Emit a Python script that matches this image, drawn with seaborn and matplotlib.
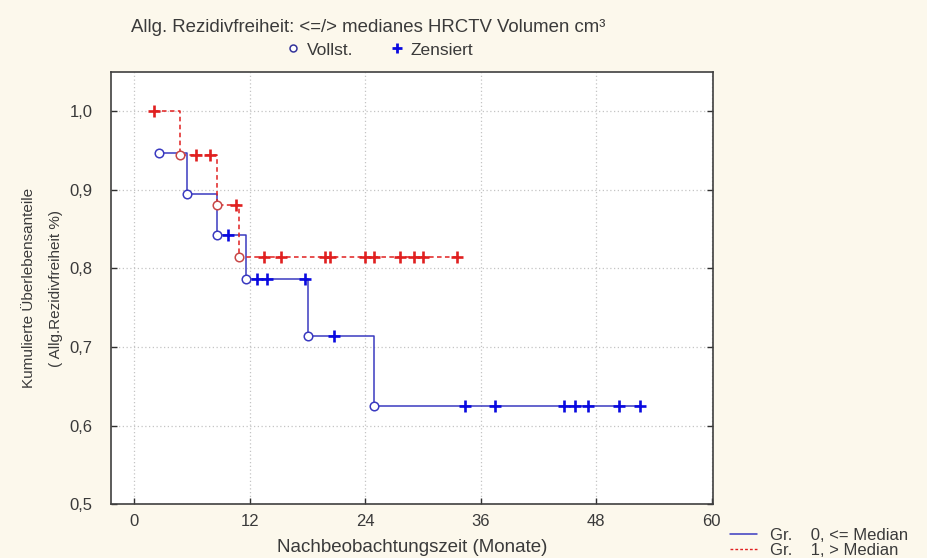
import numpy as np
import pandas as pd
import matplotlib
matplotlib.use("Agg")
import matplotlib.pyplot as plt
from matplotlib.lines import Line2D
import seaborn as sns

# ---------------- data ----------------
blue_event_t = [2.6, 5.45, 8.6, 11.6, 18.1, 24.9]
blue_event_s = [0.947, 0.894, 0.842, 0.786, 0.714, 0.625]
blue_cens_t = [9.7, 12.8, 13.8, 17.7, 20.7, 34.4, 37.5, 44.6, 45.8, 47.1, 50.4, 52.5]

red_event_t = [4.8, 8.6, 10.9]
red_event_s = [0.944, 0.881, 0.814]
red_cens_t = [2.0, 6.4, 7.9, 10.6, 13.5, 15.2, 19.8, 20.3, 24.0, 24.9, 27.6, 29.1, 30.0, 33.5]

group_labels = ["Gr.    0, <= Median", "Gr.    1, > Median"]
x_ticks = [0, 12, 24, 36, 48, 60]
y_ticks = [0.5, 0.6, 0.7, 0.8, 0.9, 1.0]
y_tick_labels = ["0,5", "0,6", "0,7", "0,8", "0,9", "1,0"]
title_text = "Allg. Rezidivfreiheit: <=/> medianes HRCTV Volumen cm³"
legend_top = ["Vollst.", "Zensiert"]
xlabel = "Nachbeobachtungszeit (Monate)"
ylabel = "Kumulierte Überlebensanteile\n( Allg.Rezidivfreiheit %)"


def surv_at(t, ev_t, ev_s):
    ev_t = np.asarray(ev_t)
    idx = np.searchsorted(ev_t, t, side="right") - 1
    return 1.0 if idx < 0 else ev_s[idx]


def curve(ev_t, ev_s, cens_t):
    times = sorted(set(list(ev_t) + list(cens_t)))
    return pd.DataFrame({"t": times, "s": [surv_at(t, ev_t, ev_s) for t in times]})


blue_curve = curve(blue_event_t, blue_event_s, blue_cens_t)
red_curve = curve(red_event_t, red_event_s, red_cens_t)
blue_cens = pd.DataFrame({"t": blue_cens_t,
                          "s": [surv_at(t, blue_event_t, blue_event_s) for t in blue_cens_t]})
red_cens = pd.DataFrame({"t": red_cens_t,
                         "s": [surv_at(t, red_event_t, red_event_s) for t in red_cens_t]})
blue_ev = pd.DataFrame({"t": blue_event_t, "s": blue_event_s})
red_ev = pd.DataFrame({"t": red_event_t, "s": red_event_s})

# ---------------- style ----------------
sns.set_theme(style="white")
plt.rcParams["font.family"] = ["Liberation Sans", "DejaVu Sans"]
txt_col = "#3a3a3a"
bg = "#FCF8EC"
blue_line = "#3a3ac0"
blue_mark = "#0a0ae0"
red_line = "#e02020"
red_circ = "#c84848"

fig = plt.figure(figsize=(9.28, 5.58), dpi=100, facecolor=bg)
ax = fig.add_axes([110.7 / 928, 1 - 504.3 / 558, (712.7 - 110.7) / 928, (504.3 - 71.7) / 558])
ax.set_facecolor("white")

# lines
sns.lineplot(data=blue_curve, x="t", y="s", ax=ax, drawstyle="steps-post",
             color=blue_line, lw=1.1, legend=False, zorder=3)
sns.lineplot(data=red_curve, x="t", y="s", ax=ax, drawstyle="steps-post",
             color=red_line, lw=1.1, legend=False, zorder=3, dashes=False)
ax.lines[-1].set_dashes([3, 2.2])

# censored markers
sns.scatterplot(data=blue_cens, x="t", y="s", ax=ax, marker="+", s=64,
                color=blue_mark, linewidth=1.9, zorder=5, legend=False)
sns.scatterplot(data=red_cens, x="t", y="s", ax=ax, marker="+", s=64,
                color=red_line, linewidth=1.9, zorder=5, legend=False)
# events
sns.scatterplot(data=blue_ev, x="t", y="s", ax=ax, marker="o", s=38,
                facecolor="white", edgecolor=blue_line, linewidth=1.1, zorder=6, legend=False)
sns.scatterplot(data=red_ev, x="t", y="s", ax=ax, marker="o", s=38,
                facecolor="white", edgecolor=red_circ, linewidth=1.1, zorder=6, legend=False)

ax.set_xlim(-2.45, 60.1)
ax.set_ylim(0.5, 1.05)
ax.set_xticks(x_ticks)
ax.set_xticklabels([str(v) for v in x_ticks])
ax.set_yticks(y_ticks)
ax.set_yticklabels(y_tick_labels)
ax.grid(True, linestyle=(0, (1, 2)), color="#c4c4c4", lw=0.9)
ax.tick_params(axis="both", direction="in", length=4, width=1, color="#303030",
               labelsize=12, labelcolor=txt_col, right=True, left=True, bottom=True)
ax.tick_params(axis="x", pad=7)
ax.tick_params(axis="y", pad=13)
for sp in ax.spines.values():
    sp.set_color("#404040")
    sp.set_linewidth(1.2)

ax.set_xlabel(xlabel, fontsize=13.5, color=txt_col, labelpad=7)
ax.set_ylabel(ylabel, fontsize=11, color=txt_col, labelpad=5, linespacing=2.1)

# top title + marker legend
fig.text(368 / 928, 1 - 28 / 558, title_text, ha="center", va="center",
         fontsize=13.4, color=txt_col)
top_handles = [Line2D([], [], ls="none", marker="o", ms=5, mfc="white", mec="#34349a", mew=1.1),
               Line2D([], [], ls="none", marker="+", ms=7, mec=blue_mark, mew=2)]
fig.legend(top_handles, legend_top, loc="center", bbox_to_anchor=(378 / 928, 1 - 50 / 558),
           ncol=2, frameon=False, fontsize=12.5, handletextpad=0.2, columnspacing=1.9,
           labelcolor=txt_col, handlelength=1.2)

# bottom-right group legend
grp_handles = [Line2D([], [], color=blue_line, lw=1.1),
               Line2D([], [], color=red_line, lw=1.0, dashes=[2, 1.5])]
fig.legend(grp_handles, group_labels, loc="lower left", bbox_to_anchor=(730 / 928, 0.0),
           frameon=False, fontsize=12, labelspacing=0.0, handlelength=1.65,
           handletextpad=0.75, labelcolor=txt_col, borderaxespad=0.0, borderpad=0.0)

fig.savefig("out.png", dpi=100, facecolor=bg)
